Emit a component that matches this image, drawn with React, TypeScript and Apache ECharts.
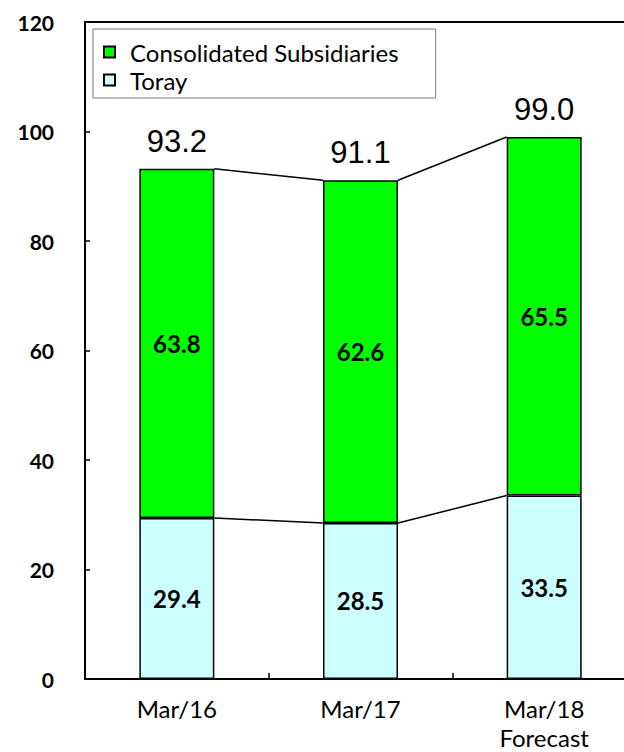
import React, { useEffect, useRef } from "react";
import * as echarts from "echarts";

const categories = ["Mar/16", "Mar/17", "Mar/18\nForecast"];
const torayValues = [29.4, 28.5, 33.5];
const subsidiaryValues = [63.8, 62.6, 65.5];
const totalValues = [93.2, 91.1, 99.0];
const yTicks = { min: 0, max: 120, interval: 20 };

const FONT = "Lato, 'Open Sans', sans-serif";
const BAR_W = 75;

export default function App() {
  const ref = useRef<HTMLDivElement>(null);
  useEffect(() => {
    document.body.style.margin = "0";
    document.body.style.overflow = "hidden";
    const chart = echarts.init(ref.current!, null, { renderer: "svg" });

    const connectorData = totalValues.slice(0, -1).map((v, i) => [
      i,
      v,
      totalValues[i + 1],
      torayValues[i],
      torayValues[i + 1],
    ]);

    chart.setOption({
      animation: false,
      backgroundColor: "#fff",
      grid: {
        left: 85,
        right: 0,
        top: 22,
        bottom: 68,
        show: true,
        borderColor: "#000",
        borderWidth: 2,
      },
      legend: {
        data: ["Consolidated Subsidiaries", "Toray"],
        orient: "vertical",
        left: 93,
        top: 29,
        padding: [11, 37, 6, 10],
        borderColor: "#777",
        borderWidth: 1,
        itemWidth: 11,
        itemHeight: 11,
        itemGap: 4,
        icon: "rect",
        textStyle: { fontFamily: FONT, fontSize: 24, lineHeight: 24, color: "#000", padding: [0, 0, 0, 10] },
      },
      xAxis: {
        type: "category",
        data: categories,
        axisLine: { lineStyle: { color: "#000", width: 2 } },
        axisTick: { show: true, inside: true, length: 6, lineStyle: { color: "#000", width: 1.5 } },
        axisLabel: {
          fontFamily: FONT,
          fontSize: 24,
          color: "#000",
          margin: 15,
          lineHeight: 29,
        },
      },
      yAxis: {
        type: "value",
        min: yTicks.min,
        max: yTicks.max,
        interval: yTicks.interval,
        splitLine: { show: false },
        axisLine: { show: true, lineStyle: { color: "#000", width: 2 } },
        axisTick: { show: true, inside: true, length: 5, lineStyle: { color: "#000", width: 1.5 } },
        axisLabel: {
          fontFamily: FONT,
          fontSize: 21,
          fontWeight: "bold",
          color: "#000",
          margin: 31,
        },
      },
      series: [
        {
          name: "Toray",
          type: "bar",
          stack: "total",
          barWidth: BAR_W,
          data: torayValues,
          itemStyle: { color: "#CCFFFF", borderColor: "#000", borderWidth: 1.5 },
          label: {
            show: true,
            position: "inside",
            fontFamily: FONT,
            fontSize: 24,
            fontWeight: "bold",
            color: "#000",
            formatter: (p: any) => p.value.toFixed(1),
          },
          z: 2,
        },
        {
          name: "Consolidated Subsidiaries",
          type: "bar",
          stack: "total",
          barWidth: BAR_W,
          data: subsidiaryValues,
          itemStyle: { color: "#00FF00", borderColor: "#000", borderWidth: 1.5 },
          label: {
            show: true,
            position: "inside",
            fontFamily: FONT,
            fontSize: 24,
            fontWeight: "bold",
            color: "#000",
            formatter: (p: any) => p.value.toFixed(1),
          },
          z: 2,
        },
        {
          name: "connectors",
          type: "custom",
          data: connectorData,
          z: 3,
          silent: true,
          renderItem: (params: any, api: any) => {
            const i = api.value(0);
            const half = BAR_W / 2;
            const a1 = api.coord([i, api.value(1)]);
            const a2 = api.coord([i + 1, api.value(2)]);
            const b1 = api.coord([i, api.value(3)]);
            const b2 = api.coord([i + 1, api.value(4)]);
            const style = { stroke: "#000", lineWidth: 1.5, fill: null };
            return {
              type: "group",
              children: [
                { type: "line", shape: { x1: a1[0] + half, y1: a1[1], x2: a2[0] - half, y2: a2[1] }, style },
                { type: "line", shape: { x1: b1[0] + half, y1: b1[1], x2: b2[0] - half, y2: b2[1] }, style },
              ],
            };
          },
        },
        {
          name: "totals",
          type: "custom",
          data: totalValues.map((v, i) => [i, v]),
          z: 3,
          silent: true,
          renderItem: (params: any, api: any) => {
            const c = api.coord([api.value(0), api.value(1)]);
            return {
              type: "text",
              x: c[0],
              y: c[1] - 12,
              style: {
                text: api.value(1).toFixed(1),
                fontFamily: "'Liberation Sans', Arial, sans-serif",
                fontSize: 31,
                fill: "#000",
                align: "center",
                verticalAlign: "bottom",
              },
            };
          },
        },
      ],
    });
    return () => chart.dispose();
  }, []);
  return <div ref={ref} style={{ position: "fixed", left: 0, top: 0, width: 636, height: 752 }} />;
}
